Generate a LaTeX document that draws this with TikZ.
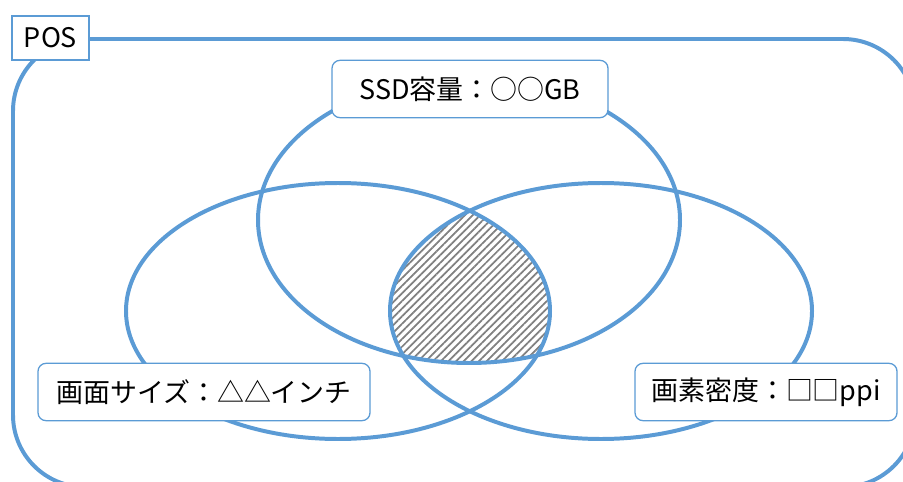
\documentclass[tikz,border=0pt]{standalone}
\usepackage{fontspec}
\setmainfont{Noto Sans CJK JP}
\usetikzlibrary{patterns.meta}
\definecolor{vennblue}{RGB}{91,155,213}

\begin{document}
\begin{tikzpicture}[x=0.03cm, y=-0.03cm,
		every node/.style={text centered, font=\fontsize{23}{27}\selectfont},
		ring/.style={draw=vennblue, line width=3.4pt},
		tag/.style={draw=vennblue, line width=1.1pt, fill=white, rounded corners=0.24cm, minimum height=1.72cm, inner sep=0pt}]

	\useasboundingbox (0,0) rectangle (903,482);

	% POS frame
	\draw[ring, rounded corners=2.16cm] (13,39) rectangle (915,487);

	% hatched common part
	\begin{scope}
		\clip (469,220) ellipse [x radius=211, y radius=143];
		\clip (338,311) ellipse [x radius=212, y radius=128];
		\fill[pattern={Lines[angle=45, distance=4.6pt, line width=1.5pt]}, pattern color=gray]
			(601,311) ellipse [x radius=211, y radius=128];
	\end{scope}

	\draw[ring] (469,220) ellipse [x radius=211, y radius=143];	% SSD
	\draw[ring] (338,311) ellipse [x radius=212, y radius=128];	% size
	\draw[ring] (601,311) ellipse [x radius=211, y radius=128];	% ppi

	\node[tag, minimum width=8.28cm] (ssd) at (470,89) {SSD容量：○○GB};
	\node[tag, minimum width=9.96cm] (size) at (204,392) {画面サイズ：△△インチ};
	\node[tag, minimum width=7.86cm] (ppi) at (766,392) {画素密度：□□ppi};

	\node[draw=vennblue, line width=1.1pt, fill=white, minimum width=2.31cm, minimum height=1.32cm, inner sep=0pt] (pos) at (50.5,38) {POS};
\end{tikzpicture}
\end{document}
